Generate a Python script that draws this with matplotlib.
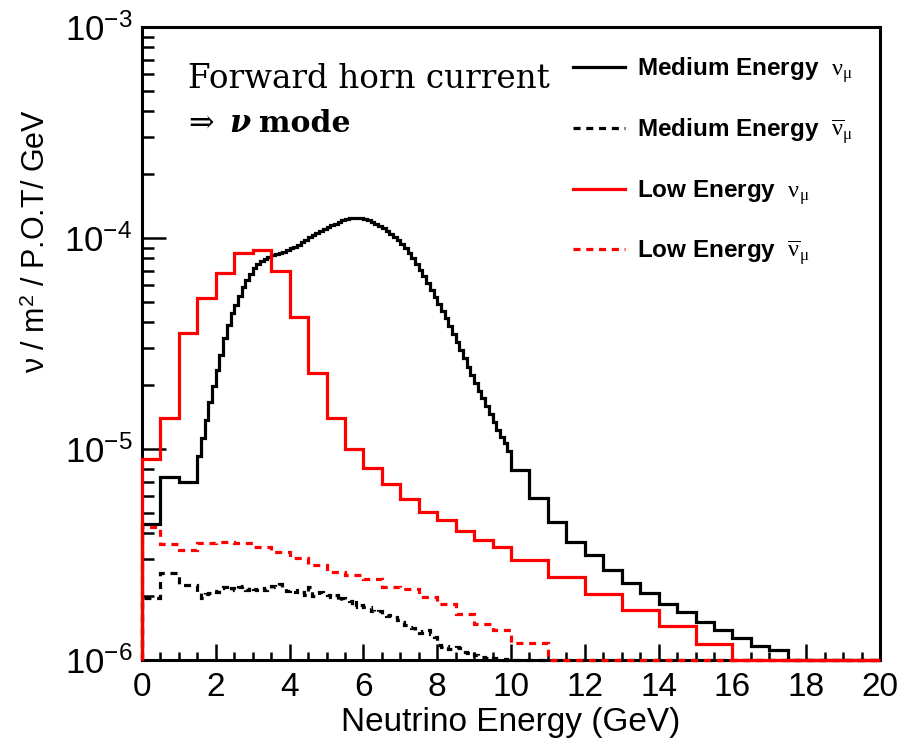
import numpy as np
import matplotlib
matplotlib.use("Agg")
import matplotlib.pyplot as plt
from matplotlib.lines import Line2D

plt.rcParams['font.family'] = ['Liberation Sans', 'DejaVu Sans']
plt.rcParams['mathtext.fontset'] = 'custom'
plt.rcParams['mathtext.rm'] = 'Liberation Serif'
plt.rcParams['mathtext.it'] = 'Liberation Serif:italic'

YMIN, YMAX = 1e-6, 1e-3

# ---- Medium Energy nu_mu (coarse 0.5 GeV bins, 0.1 GeV bins 1.5-10, 0.5 GeV bins 10-20)
me_edges = np.concatenate([np.arange(0.0, 1.5, 0.5),
                           np.round(np.arange(1.5, 10.0, 0.1), 2),
                           np.arange(10.0, 20.01, 0.5)])
me_numu = np.array([
    4.41e-6, 7.37e-6, 6.98e-6,
    # 1.5 - 10 GeV, 0.1 GeV steps
    9.26e-6, 1.13e-5, 1.37e-5, 1.67e-5, 1.99e-5, 2.37e-5, 2.79e-5, 3.36e-5, 3.87e-5, 4.41e-5,
    4.81e-5, 5.31e-5, 5.86e-5, 6.32e-5, 6.75e-5, 7.21e-5, 7.53e-5, 7.78e-5, 7.95e-5, 8.13e-5,
    8.31e-5, 8.40e-5, 8.49e-5, 8.58e-5, 8.77e-5, 8.97e-5, 9.06e-5, 9.27e-5, 9.57e-5, 9.78e-5,
    1.011e-4, 1.033e-4, 1.056e-4, 1.079e-4, 1.103e-4, 1.127e-4, 1.152e-4, 1.165e-4, 1.191e-4, 1.217e-4,
    1.230e-4, 1.244e-4, 1.244e-4, 1.244e-4, 1.244e-4, 1.230e-4, 1.217e-4, 1.191e-4, 1.165e-4, 1.140e-4,
    1.115e-4, 1.079e-4, 1.045e-4, 1.011e-4, 9.78e-5, 9.37e-5, 8.97e-5, 8.49e-5, 8.04e-5, 7.53e-5,
    7.05e-5, 6.61e-5, 6.12e-5, 5.67e-5, 5.25e-5, 4.87e-5, 4.51e-5, 4.18e-5, 3.83e-5, 3.51e-5,
    3.22e-5, 2.95e-5, 2.70e-5, 2.45e-5, 2.24e-5, 2.06e-5, 1.88e-5, 1.75e-5, 1.60e-5, 1.47e-5,
    1.34e-5, 1.23e-5, 1.14e-5, 1.07e-5, 9.78e-6,
    # 10 - 20 GeV, 0.5 GeV steps
    7.95e-6, 5.86e-6, 4.51e-6, 3.64e-6, 3.13e-6, 2.67e-6, 2.31e-6, 2.07e-6, 1.84e-6, 1.68e-6,
    1.52e-6, 1.39e-6, 1.27e-6, 1.16e-6, 1.12e-6, 0.0, 0.0, 0.0, 0.0, 0.0,
])

# ---- Medium Energy anti-nu_mu (same binning)
me_anumu = np.array([
    1.97e-6, 2.58e-6, 2.27e-6,
    2.10e-6, 1.97e-6, 2.05e-6, 2.08e-6, 2.12e-6, 2.10e-6, 2.19e-6, 2.22e-6, 2.15e-6, 2.19e-6,
    2.15e-6, 2.22e-6, 2.24e-6, 2.15e-6, 2.22e-6, 2.17e-6, 2.15e-6, 2.19e-6, 2.15e-6, 2.17e-6,
    2.24e-6, 2.22e-6, 2.29e-6, 2.19e-6, 2.12e-6, 2.15e-6, 2.10e-6, 2.15e-6, 2.10e-6, 2.03e-6,
    2.22e-6, 2.01e-6, 2.03e-6, 2.10e-6, 2.08e-6, 2.03e-6, 1.99e-6, 2.03e-6, 1.90e-6, 1.97e-6,
    1.92e-6, 1.90e-6, 1.78e-6, 1.88e-6, 1.82e-6, 1.78e-6, 1.78e-6, 1.71e-6, 1.69e-6, 1.71e-6,
    1.65e-6, 1.62e-6, 1.63e-6, 1.60e-6, 1.55e-6, 1.51e-6, 1.47e-6, 1.43e-6, 1.42e-6, 1.37e-6,
    1.34e-6, 1.37e-6, 1.39e-6, 1.33e-6, 1.29e-6, 1.18e-6, 1.15e-6, 1.17e-6, 1.13e-6, 1.14e-6,
    1.15e-6, 1.14e-6, 1.09e-6, 1.08e-6, 1.09e-6, 1.06e-6, 1.03e-6, 1.03e-6, 1.02e-6, 1.01e-6,
    1.02e-6, 1.01e-6, 1.01e-6, 1.00e-6, 1.01e-6,
    0.0, 0.0, 0.0, 0.0, 0.0, 0.0, 0.0, 0.0, 0.0, 0.0,
    0.0, 0.0, 0.0, 0.0, 0.0, 0.0, 0.0, 0.0, 0.0, 0.0,
])

# ---- Low Energy beam (0.5 GeV bins to 10 GeV, 1 GeV bins above)
le_edges = np.concatenate([np.arange(0.0, 10.0, 0.5), np.arange(10.0, 20.01, 1.0)])
le_numu = np.array([
    9.0e-6, 1.40e-5, 3.53e-5, 5.21e-5, 6.85e-5, 8.46e-5, 8.77e-5, 6.98e-5, 4.21e-5, 2.29e-5,
    1.40e-5, 9.97e-6, 8.1e-6, 6.83e-6, 5.79e-6, 5.05e-6, 4.61e-6, 4.09e-6, 3.70e-6, 3.44e-6,
    2.98e-6, 2.48e-6, 2.05e-6, 1.72e-6, 1.45e-6, 1.19e-6, 0.0, 0.0, 0.0, 0.0,
])
le_anumu = np.array([
    4.27e-6, 3.55e-6, 3.32e-6, 3.58e-6, 3.61e-6, 3.58e-6, 3.45e-6, 3.26e-6, 3.03e-6, 2.81e-6,
    2.62e-6, 2.54e-6, 2.42e-6, 2.22e-6, 2.18e-6, 1.98e-6, 1.84e-6, 1.66e-6, 1.48e-6, 1.38e-6,
    1.20e-6, 0.0, 0.0, 0.0, 0.0, 0.0, 0.0, 0.0, 0.0, 0.0,
])

legend_labels = [
    r'Medium Energy  $\mathrm{\nu_{\mu}}$',
    r'Medium Energy  $\mathrm{\overline{\nu}_{\mu}}$',
    r'Low Energy  $\mathrm{\nu_{\mu}}$',
    r'Low Energy  $\mathrm{\overline{\nu}_{\mu}}$',
]

W, H = 905, 753
fig = plt.figure(figsize=(W / 100, H / 100), dpi=100)
ax = fig.add_axes([142 / W, 1 - 660 / H, (880 - 142) / W, (660 - 27) / H])
ax.set_yscale('log')
ax.set_xlim(0, 20)
ax.set_ylim(YMIN, YMAX)

LW = 2.3
DASH = (0, (2.2, 1.8))


def floor(v):
    return np.where(v > 0, v, YMIN)


series = [
    (me_numu, me_edges, 'black', '-'),
    (me_anumu, me_edges, 'black', DASH),
    (le_numu, le_edges, 'red', '-'),
    (le_anumu, le_edges, 'red', DASH),
]
for vals, edges, col, ls in series:
    ax.stairs(floor(vals), edges, baseline=YMIN, color=col, lw=LW,
              linestyle=ls, zorder=3, clip_on=False)

for s in ax.spines.values():
    s.set_linewidth(2.2)

ax.tick_params(axis='both', which='both', direction='in', top=False, right=False, width=1.8)
ax.tick_params(axis='y', which='major', length=17, pad=7, labelsize=25)
ax.tick_params(axis='y', which='minor', length=8.5)
ax.tick_params(axis='x', which='major', length=11.5, pad=9, labelsize=24)
ax.tick_params(axis='x', which='minor', length=5.8)
ax.set_xticks(np.arange(0, 21, 2))
ax.set_xticks(np.arange(0, 20.01, 0.5), minor=True)
ax.set_yticks([1e-6, 1e-5, 1e-4, 1e-3])
ax.set_yticklabels([r'$\mathregular{10^{-6}}$', r'$\mathregular{10^{-5}}$',
                    r'$\mathregular{10^{-4}}$', r'$\mathregular{10^{-3}}$'])
ax.yaxis.set_minor_locator(matplotlib.ticker.LogLocator(base=10, subs=np.arange(2, 10)))
ax.yaxis.set_minor_formatter(matplotlib.ticker.NullFormatter())

fig.text(511 / W, 1 - 722 / H, 'Neutrino Energy (GeV)', ha='center', va='center', fontsize=24)
fig.text(37 / W, 1 - 241 / H, r'ν / m$^{\mathregular{2}}$ / P.O.T/ GeV', rotation=90,
         ha='center', va='center', fontsize=22)

# legend
handles = [Line2D([], [], color=c, lw=LW, linestyle=ls) for _, _, c, ls in series]
leg = ax.legend(handles, legend_labels, loc='upper left', bbox_to_anchor=(573 / W, 1 - 55 / H),
                bbox_transform=fig.transFigure, frameon=False, borderpad=0, borderaxespad=0,
                handlelength=2.15, handletextpad=0.5, labelspacing=1.3,
                prop={'weight': 'bold', 'size': 17.5})

# beam mode annotation
serif = 'DejaVu Serif'
fig.text(188 / W, 1 - 88 / H, 'Forward horn current', family=serif, fontsize=23.5,
         ha='left', va='baseline')
fig.text(188 / W, 1 - 132 / H, '⇒', family=serif, fontsize=22, ha='left', va='baseline')
fig.text(229 / W, 1 - 132 / H, 'ν', family=serif, fontsize=22, weight='bold', style='italic',
         ha='left', va='baseline')
fig.text(259 / W, 1 - 132 / H, 'mode', family=serif, fontsize=21.5, weight='bold',
         ha='left', va='baseline')

fig.savefig('out.png', dpi=100)
